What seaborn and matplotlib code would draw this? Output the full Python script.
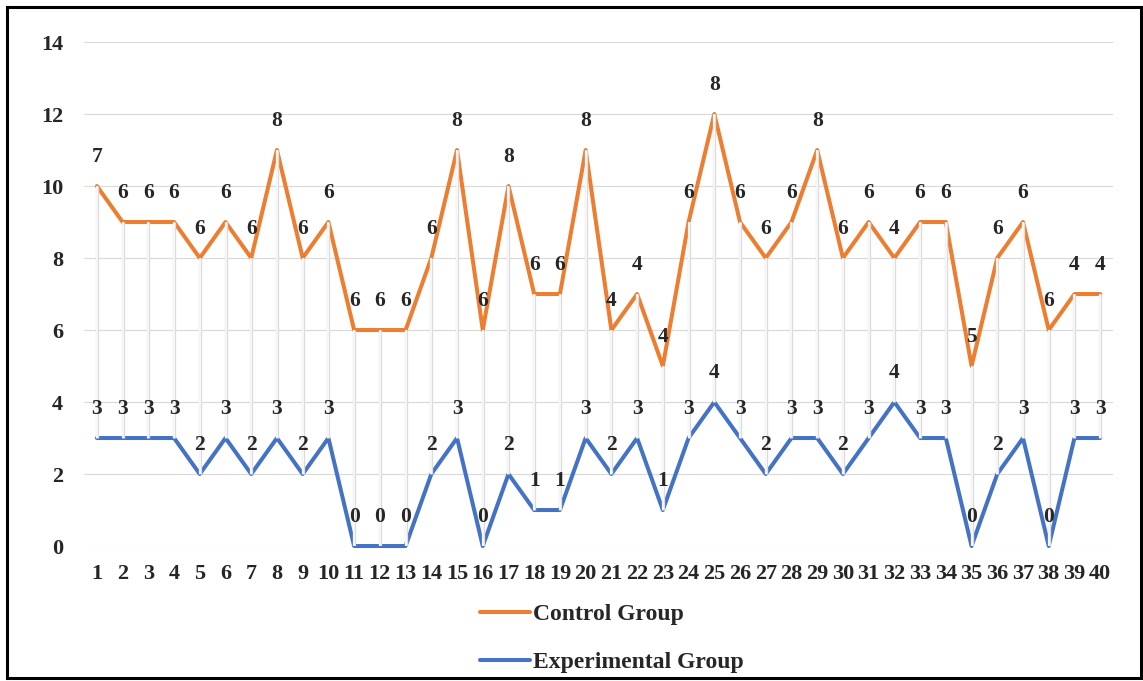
import matplotlib
matplotlib.use("Agg")
import matplotlib.pyplot as plt
import seaborn as sns
from matplotlib.patches import Rectangle
from matplotlib.lines import Line2D

# Dane wykresu (wykres skumulowany: linia pomarańczowa = eksperymentalna + kontrolna)
numery = list(range(1, 41))
grupa_eksperymentalna = [3, 3, 3, 3, 2, 3, 2, 3, 2, 3,
                         0, 0, 0, 2, 3, 0, 2, 1, 1, 3,
                         2, 3, 1, 3, 4, 3, 2, 3, 3, 2,
                         3, 4, 3, 3, 0, 2, 3, 0, 3, 3]
grupa_kontrolna = [7, 6, 6, 6, 6, 6, 6, 8, 6, 6,
                   6, 6, 6, 6, 8, 6, 8, 6, 6, 8,
                   4, 4, 4, 6, 8, 6, 6, 6, 8, 6,
                   6, 4, 6, 6, 5, 6, 6, 6, 4, 4]
y_ticks = [0, 2, 4, 6, 8, 10, 12, 14]

suma = [e + k for e, k in zip(grupa_eksperymentalna, grupa_kontrolna)]

POMARANCZ = "#ED7D31"
NIEBIESKI = "#4472C4"

sns.set_style("white")
plt.rcParams["font.family"] = ["Liberation Serif", "DejaVu Serif"]
plt.rcParams["font.weight"] = "bold"

fig = plt.figure(figsize=(11.43, 6.81), dpi=100)
ax = fig.add_axes([0.0735, 0.1982, 0.9003, 0.7401])

# linie siatki
for t in y_ticks:
    ax.axhline(t, color="#D9D9D9", lw=0.8, zorder=0)

sns.lineplot(x=numery, y=suma, color=POMARANCZ, lw=2.9, ax=ax, zorder=2, clip_on=False)
sns.lineplot(x=numery, y=grupa_eksperymentalna, color=NIEBIESKI, lw=2.9, ax=ax, zorder=2, clip_on=False)

# linie high-low
ax.vlines(numery, grupa_eksperymentalna, suma, color="#DCDCDC", lw=2.4, zorder=3)
ax.vlines(numery, grupa_eksperymentalna, suma, color="white", lw=1.1, zorder=3.1)

# etykiety danych
for x, y, k in zip(numery, suma, grupa_kontrolna):
    ax.annotate(str(k), (x, y), xytext=(0, 21), textcoords="offset points",
                ha="center", va="center", fontsize=15.5, fontweight="bold", zorder=5)
for x, e in zip(numery, grupa_eksperymentalna):
    ax.annotate(str(e), (x, e), xytext=(0, 21), textcoords="offset points",
                ha="center", va="center", fontsize=15.5, fontweight="bold", zorder=5)

ax.set_xlim(0.5, 40.5)
ax.set_ylim(0, 14)
ax.set_xticks(numery)
ax.set_xticklabels([str(n) for n in numery])
ax.set_yticks(y_ticks)
ax.set_xlabel("")
ax.set_ylabel("")
ax.tick_params(axis="x", length=0, pad=13, labelsize=16)
ax.tick_params(axis="y", length=0, pad=15, labelsize=16)
for lab in ax.get_xticklabels() + ax.get_yticklabels():
    lab.set_fontweight("bold")
for s in ax.spines.values():
    s.set_visible(False)

uchwyty = [Line2D([], [], color=POMARANCZ, lw=2.9),
           Line2D([], [], color=NIEBIESKI, lw=2.9)]
fig.legend(uchwyty, ["Control Group", "Experimental Group"], loc="center left",
           bbox_to_anchor=(0.410, 0.063), frameon=False, borderpad=0,
           handlelength=2.1, handletextpad=0.12, labelspacing=1.12,
           prop={"family": "Liberation Serif", "weight": "bold", "size": 17})

# ramka wokół całości
fig.patches.append(Rectangle((7 / 1143, 3 / 681), 1134 / 1143, 671 / 681,
                             transform=fig.transFigure, fill=False,
                             edgecolor="black", lw=2.2))

fig.savefig("out.png", dpi=100)
